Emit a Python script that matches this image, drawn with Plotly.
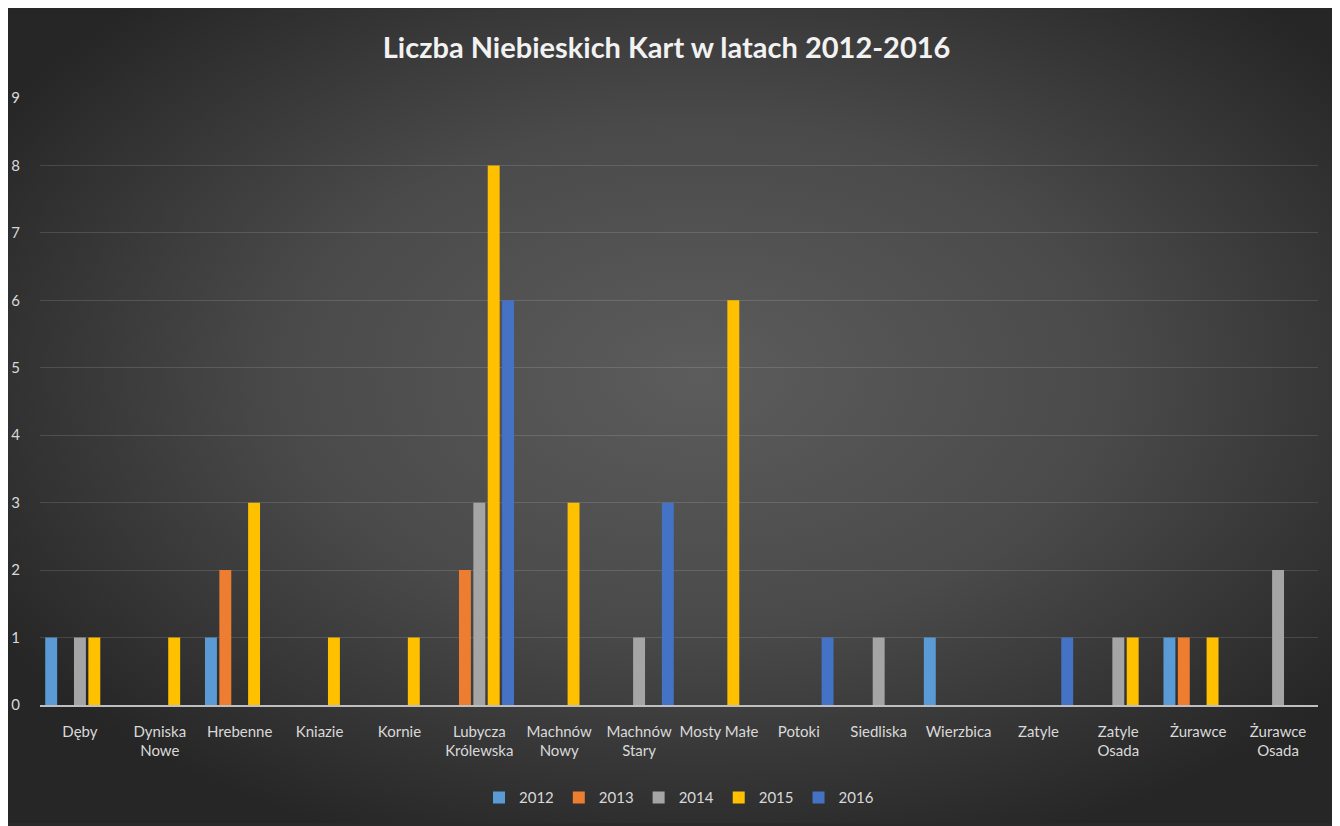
import base64
import plotly.graph_objects as go

# kategorie (miejscowości)
miejscowosci = [
    "Dęby", "Dyniska<br>Nowe", "Hrebenne", "Kniazie", "Kornie",
    "Lubycza<br>Królewska", "Machnów<br>Nowy", "Machnów<br>Stary", "Mosty Małe",
    "Potoki", "Siedliska", "Wierzbica", "Zatyle", "Zatyle<br>Osada",
    "Żurawce", "Żurawce<br>Osada",
]

# liczba kart w poszczególnych latach
karty_2012 = [1, 0, 1, 0, 0, 0, 0, 0, 0, 0, 0, 1, 0, 0, 1, 0]
karty_2013 = [0, 0, 2, 0, 0, 2, 0, 0, 0, 0, 0, 0, 0, 0, 1, 0]
karty_2014 = [1, 0, 0, 0, 0, 3, 0, 1, 0, 0, 1, 0, 0, 1, 0, 2]
karty_2015 = [1, 1, 3, 1, 1, 8, 3, 0, 6, 0, 0, 0, 0, 1, 1, 0]
karty_2016 = [0, 0, 0, 0, 0, 6, 0, 3, 0, 1, 0, 0, 1, 0, 0, 0]

lata = ["2012", "2013", "2014", "2015", "2016"]
serie = [karty_2012, karty_2013, karty_2014, karty_2015, karty_2016]
kolory = ["#5B9BD5", "#ED7D31", "#A5A5A5", "#FFC000", "#4472C4"]

FONT = "Lato"
W, H = 1328, 818
L, R, T, B = 32, 18, 90, 119
PW, PH = W - L - R, H - T - B

fig = go.Figure()

for rok, wartosci, kolor in zip(lata, serie, kolory):
    fig.add_trace(
        go.Bar(
            x=miejscowosci,
            y=[v if v else None for v in wartosci],
            name=rok,
            marker=dict(color=kolor, line=dict(width=0)),
        )
    )

# tło: ciemny gradient radialny
svg = f"""<svg xmlns='http://www.w3.org/2000/svg' width='{W}' height='{H}'>
<defs><radialGradient id='g' cx='52%' cy='45%' r='62%'>
<stop offset='0%' stop-color='#5c5c5c'/>
<stop offset='50%' stop-color='#4a4a4a'/>
<stop offset='100%' stop-color='#262626'/>
</radialGradient></defs>
<rect width='{W}' height='{H}' fill='url(#g)'/></svg>"""
tlo = "data:image/svg+xml;base64," + base64.b64encode(svg.encode()).decode()

fig.update_layout(
    width=W,
    height=H,
    paper_bgcolor="#2a2a2a",
    plot_bgcolor="rgba(0,0,0,0)",
    margin=dict(l=L, r=R, t=T, b=B),
    barmode="group",
    bargap=0.1,
    bargroupgap=0.17,
    font=dict(family=FONT, size=15, color="#d9d9d9"),
    title=dict(
        text="Liczba Niebieskich Kart w latach 2012-2016",
        x=0.4959,
        xanchor="center",
        y=1 - 40 / H,
        yanchor="middle",
        font=dict(family=FONT, size=29, color="#f2f2f2", weight="bold"),
    ),
    legend=dict(
        orientation="h",
        x=0.5,
        xanchor="center",
        y=-(792 - (H - B)) / PH,
        yanchor="middle",
        bgcolor="rgba(0,0,0,0)",
        font=dict(size=15, color="#d9d9d9"),
        itemwidth=30,
        traceorder="normal",
    ),
    images=[
        dict(
            source=tlo,
            xref="paper",
            yref="paper",
            x=-L / PW,
            y=1 + T / PH,
            sizex=W / PW,
            sizey=H / PH,
            xanchor="left",
            yanchor="top",
            sizing="stretch",
            layer="below",
        )
    ],
    xaxis=dict(
        automargin=False,
        showgrid=False,
        showline=True,
        linecolor="#bfbfbf",
        linewidth=1.5,
        ticks="outside",
        ticklen=12,
        tickcolor="rgba(0,0,0,0)",
        tickangle=0,
        tickfont=dict(size=15, color="#d9d9d9"),
    ),
    yaxis=dict(
        automargin=False,
        range=[0, 9],
        dtick=1,
        showgrid=True,
        gridcolor="rgba(255,255,255,0.13)",
        gridwidth=1,
        zeroline=False,
        showline=False,
        ticks="outside",
        ticklen=16,
        tickcolor="rgba(0,0,0,0)",
        tickfont=dict(size=15, color="#d9d9d9"),
    ),
)

fig.write_html("out.html")
